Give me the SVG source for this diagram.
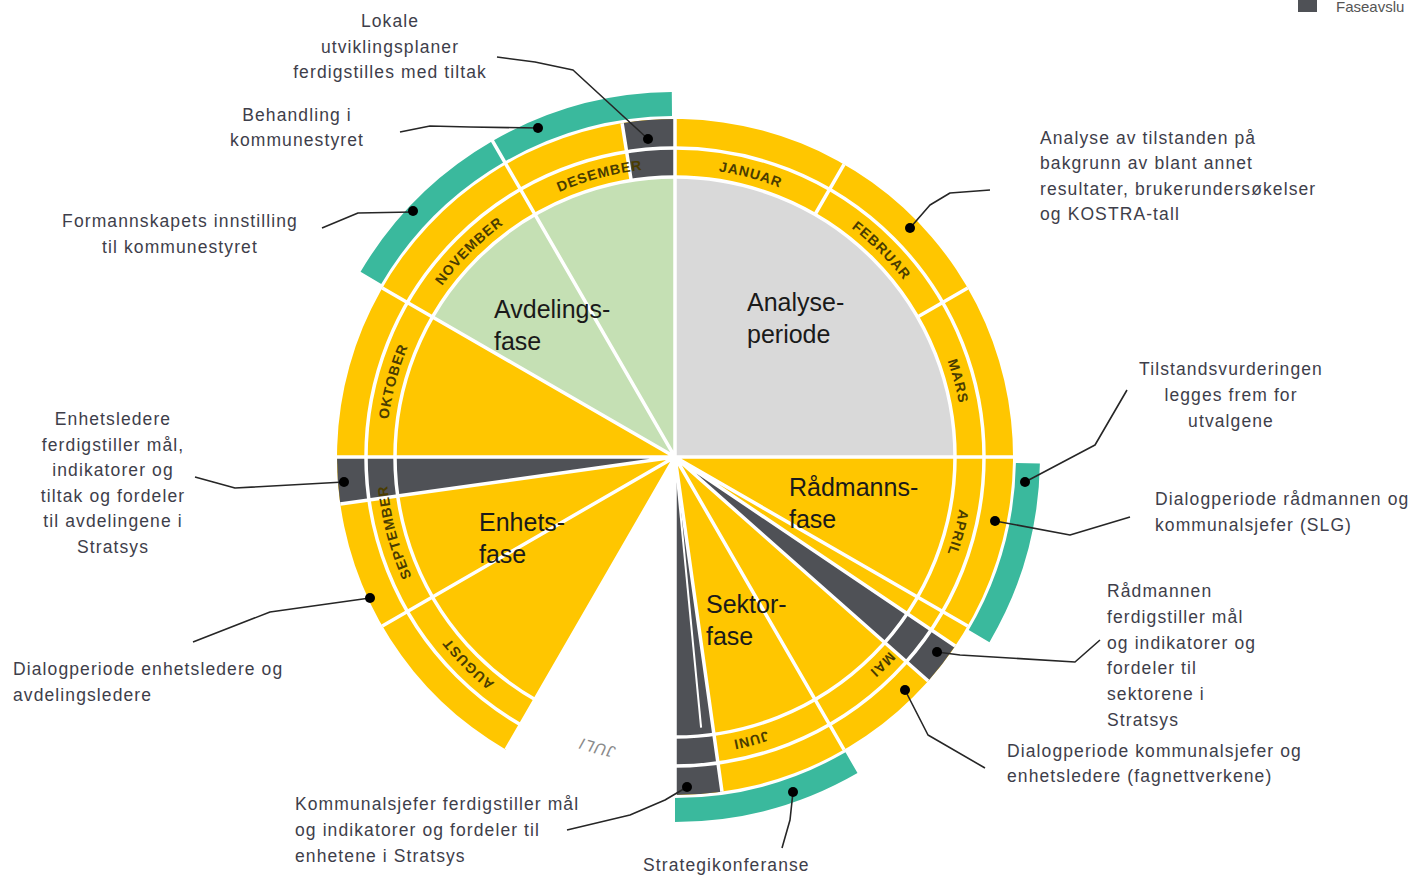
<svg xmlns="http://www.w3.org/2000/svg" width="1415" height="876" viewBox="0 0 1415 876">
<defs>
<style>
.y{fill:#ffc600}
.g{fill:#4f5156}
.lg{fill:#d9d9d9}
.gr{fill:#c5e0b4}
.teal{fill:none;stroke:#3ab99d;stroke-width:24}
.div{stroke:#fff;stroke-width:3.5;fill:none}
.lead{fill:none;stroke:#262626;stroke-width:1.6;stroke-linejoin:round}
.dot{fill:#000}
.t{font-family:"Liberation Sans",Arial,sans-serif;font-size:17.5px;letter-spacing:1.1px;fill:#3e3e4a}
.c{text-anchor:middle}
.ph{font-family:"Liberation Sans",Arial,sans-serif;font-size:25px;fill:#1a1a1a}
.mo{font-family:"Liberation Sans",Arial,sans-serif;font-size:14px;font-weight:bold;letter-spacing:0.9px;fill:#4a3c00;text-anchor:middle}
.jul{fill:#8a8a8a;font-style:italic;font-weight:normal;font-size:16px}
</style>
<path id="mp1" d="M675 168 A289 289 0 0 1 819.5 206.7"/>
<path id="mp2" d="M819.5 206.7 A289 289 0 0 1 925.3 312.5"/>
<path id="mp3" d="M925.3 312.5 A289 289 0 0 1 964 457"/>
<path id="mp4" d="M964 457 A289 289 0 0 1 925.3 601.5"/>
<path id="mp5" d="M925.3 601.5 A289 289 0 0 1 819.5 707.3"/>
<path id="mp6" d="M819.5 707.3 A289 289 0 0 1 675 746"/>
<path id="mp7" d="M675 753 A296 296 0 0 1 527 713.3"/>
<path id="mp8" d="M530.5 707.3 A289 289 0 0 1 424.7 601.5"/>
<path id="mp9" d="M424.7 601.5 A289 289 0 0 1 386 457"/>
<path id="mp10" d="M386 457 A289 289 0 0 1 424.7 312.5"/>
<path id="mp11" d="M424.7 312.5 A289 289 0 0 1 530.5 206.7"/>
<path id="mp12" d="M530.5 206.7 A289 289 0 0 1 675 168"/>
</defs>

<g id="ring">
<path class="y" d="M506 749.7 A338 338 0 1 1 675 795 L675 737 A280 280 0 1 0 535 699.5 Z"/>
</g>

<g id="phase-analyse">
<path class="lg" d="M675 457 L675 177 A280 280 0 0 1 955 457 Z"/>
<text class="ph" x="747" y="311">Analyse-</text>
<text class="ph" x="747" y="343">periode</text>
</g>
<g id="phase-avdeling">
<path class="gr" d="M675 457 L432.5 317 A280 280 0 0 1 675 177 Z"/>
</g>
<g id="phase-oktober">
<path class="y" d="M675 457 L395 457 A280 280 0 0 1 432.5 317 Z"/>
</g>
<g id="phase-radmann">
<path class="y" d="M675 457 L955 457 A280 280 0 0 1 907.1 613.6 Z"/>
</g>
<g id="phase-sektor">
<path class="y" d="M675 457 L884.7 642.5 A280 280 0 0 1 714 734.3 Z"/>
</g>
<g id="phase-enhet">
<path class="y" d="M675 457 L535 699.5 A280 280 0 0 1 397.7 496 Z"/>
</g>

<g id="fase-avslutning">
<path class="g" d="M622.1 123.2 A338 338 0 0 1 675 119 L675 177 A280 280 0 0 0 631.2 180.4 Z"/>
<path class="g" d="M675 457 L340.3 504 A338 338 0 0 1 337 457 Z"/>
<path class="g" d="M675 457 L955.2 646 A338 338 0 0 1 928.2 681 Z"/>
<path class="g" d="M675 457 L722 791.7 A338 338 0 0 1 675 795 Z"/>
</g>

<g id="teal-arcs">
<path class="teal" d="M370.9 277.9 A353 353 0 0 1 671.9 104"/>
<path class="teal" d="M1027.9 463.2 A353 353 0 0 1 979.1 636.1"/>
<path class="teal" d="M851.5 762.7 A353 353 0 0 1 675 810"/>
</g>

<g id="dividers" class="div">
<circle cx="675" cy="457" r="280"/>
<circle cx="675" cy="457" r="309"/>
<path d="M675 457 L675 119 M675 457 L1013 457 M675 457 L967.7 626 M675 457 L955.2 646 M675 457 L928.2 681 M675 457 L844 749.7 M675 457 L722 791.7 M675 457 L675 795 M675 457 L506 749.7 M675 457 L382.3 626 M675 457 L340.3 504 M675 457 L337 457 M675 457 L382.3 288 M675 457 L491 138.3 M815 214.5 L844 164.3 M917.5 317 L967.7 288 M631.2 180.4 L622.1 123.2"/>
<path d="M675 457 L701.1 727.7" stroke-width="2"/>
</g>

<g id="months">
<text class="mo"><textPath href="#mp1" startOffset="50%">JANUAR</textPath></text>
<text class="mo"><textPath href="#mp2" startOffset="50%">FEBRUAR</textPath></text>
<text class="mo"><textPath href="#mp3" startOffset="50%">MARS</textPath></text>
<text class="mo"><textPath href="#mp4" startOffset="50%">APRIL</textPath></text>
<text class="mo"><textPath href="#mp5" startOffset="50%">MAI</textPath></text>
<text class="mo"><textPath href="#mp6" startOffset="50%">JUNI</textPath></text>
<text class="mo jul"><textPath href="#mp7" startOffset="50%">JULI</textPath></text>
<text class="mo"><textPath href="#mp8" startOffset="50%">AUGUST</textPath></text>
<text class="mo"><textPath href="#mp9" startOffset="50%">SEPTEMBER</textPath></text>
<text class="mo"><textPath href="#mp10" startOffset="50%">OKTOBER</textPath></text>
<text class="mo"><textPath href="#mp11" startOffset="50%">NOVEMBER</textPath></text>
<text class="mo"><textPath href="#mp12" startOffset="50%">DESEMBER</textPath></text>
</g>

<g id="phase-labels">
<text class="ph" x="494" y="318">Avdelings-</text>
<text class="ph" x="494" y="350">fase</text>
<text class="ph" x="789" y="496">Rådmanns-</text>
<text class="ph" x="789" y="528">fase</text>
<text class="ph" x="479" y="531">Enhets-</text>
<text class="ph" x="479" y="563">fase</text>
<text class="ph" x="706" y="613">Sektor-</text>
<text class="ph" x="706" y="645">fase</text>
</g>

<g id="connectors" class="lead">
<polyline points="497,57 535,62 573,70 648,139"/>
<polyline points="400,132 430,126 470,127 538,128"/>
<polyline points="322,228 358,213 413,212"/>
<polyline points="990,190 950,193 930,205 910,228"/>
<polyline points="1127,390 1095,445 1025,482"/>
<polyline points="1130,517 1070,535 995,521"/>
<polyline points="1100,640 1075,662 960,655 937,652"/>
<polyline points="905,690 928,735 985,768"/>
<polyline points="793,792 790,820 782,848"/>
<polyline points="567,830 630,815 665,800 687,787"/>
<polyline points="193,642 270,612 370,598"/>
<polyline points="195,477 235,488 344,482"/>
</g>

<g id="callout-lokale">
<circle class="dot" cx="648" cy="139" r="5"/>
<text class="t c" x="390" y="27">Lokale</text>
<text class="t c" x="390" y="53">utviklingsplaner</text>
<text class="t c" x="390" y="78">ferdigstilles med tiltak</text>
</g>
<g id="callout-behandling">
<circle class="dot" cx="538" cy="128" r="5"/>
<text class="t c" x="297" y="121">Behandling i</text>
<text class="t c" x="297" y="146">kommunestyret</text>
</g>
<g id="callout-formannskap">
<circle class="dot" cx="413" cy="211" r="5"/>
<text class="t c" x="180" y="227">Formannskapets innstilling</text>
<text class="t c" x="180" y="253">til kommunestyret</text>
</g>
<g id="callout-analyse">
<circle class="dot" cx="910" cy="228" r="5"/>
<text class="t" x="1040" y="144">Analyse av tilstanden på</text>
<text class="t" x="1040" y="169">bakgrunn av blant annet</text>
<text class="t" x="1040" y="195">resultater, brukerundersøkelser</text>
<text class="t" x="1040" y="220">og KOSTRA-tall</text>
</g>
<g id="callout-tilstand">
<circle class="dot" cx="1025" cy="482" r="5"/>
<text class="t c" x="1231" y="375">Tilstandsvurderingen</text>
<text class="t c" x="1231" y="401">legges frem for</text>
<text class="t c" x="1231" y="427">utvalgene</text>
</g>
<g id="callout-dialog-radmann">
<circle class="dot" cx="995" cy="521" r="5"/>
<text class="t" x="1155" y="505">Dialogperiode rådmannen og</text>
<text class="t" x="1155" y="531">kommunalsjefer (SLG)</text>
</g>
<g id="callout-radmann-ferdig">
<circle class="dot" cx="937" cy="652" r="5"/>
<text class="t" x="1107" y="597">Rådmannen</text>
<text class="t" x="1107" y="623">ferdigstiller mål</text>
<text class="t" x="1107" y="649">og indikatorer og</text>
<text class="t" x="1107" y="674">fordeler til</text>
<text class="t" x="1107" y="700">sektorene i</text>
<text class="t" x="1107" y="726">Stratsys</text>
</g>
<g id="callout-dialog-kommunal">
<circle class="dot" cx="905" cy="690" r="5"/>
<text class="t" x="1007" y="757">Dialogperiode kommunalsjefer og</text>
<text class="t" x="1007" y="782">enhetsledere (fagnettverkene)</text>
</g>
<g id="callout-strategi">
<circle class="dot" cx="793" cy="792" r="5"/>
<text class="t" x="643" y="871">Strategikonferanse</text>
</g>
<g id="callout-kommunal-ferdig">
<circle class="dot" cx="687" cy="787" r="5"/>
<text class="t" x="295" y="810">Kommunalsjefer ferdigstiller mål</text>
<text class="t" x="295" y="836">og indikatorer og fordeler til</text>
<text class="t" x="295" y="862">enhetene i Stratsys</text>
</g>
<g id="callout-dialog-enhet">
<circle class="dot" cx="370" cy="598" r="5"/>
<text class="t" x="13" y="675">Dialogperiode enhetsledere og</text>
<text class="t" x="13" y="701">avdelingsledere</text>
</g>
<g id="callout-enhet-ferdig">
<circle class="dot" cx="344" cy="482" r="5"/>
<text class="t c" x="113" y="425">Enhetsledere</text>
<text class="t c" x="113" y="451">ferdigstiller mål,</text>
<text class="t c" x="113" y="476">indikatorer og</text>
<text class="t c" x="113" y="502">tiltak og fordeler</text>
<text class="t c" x="113" y="527">til avdelingene i</text>
<text class="t c" x="113" y="553">Stratsys</text>
</g>

<g id="legend">
<rect x="1298" y="0" width="19" height="12" class="g"/>
<text x="1336" y="12" font-family="Liberation Sans, Arial, sans-serif" font-size="15" fill="#555">Faseavslu</text>
</g>
</svg>
